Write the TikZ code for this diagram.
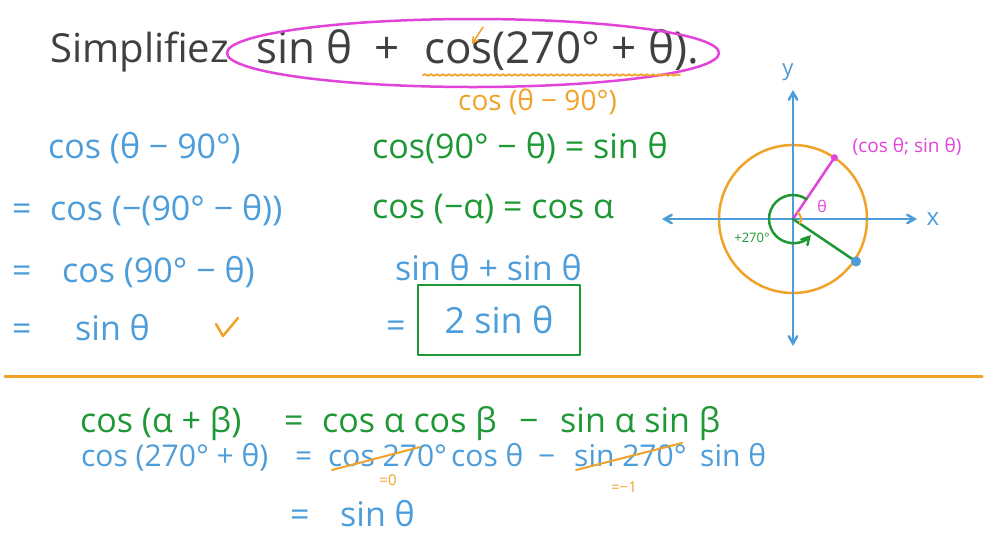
\documentclass[tikz,border=0pt]{standalone}
\usepackage{fontspec}
\setmainfont{Open Sans}
\usepackage{tikz}
\usetikzlibrary{arrows,calc,decorations.pathmorphing}
\definecolor{penblue}{RGB}{77,157,218}
\definecolor{pengreen}{RGB}{30,152,52}
\definecolor{penorange}{RGB}{240,163,40}
\definecolor{penpink}{RGB}{226,68,218}
\definecolor{pengray}{RGB}{64,64,64}
\tikzstyle{eq} = [anchor=base west, inner sep=0pt, font=\fontsize{34}{40}\selectfont]
\tikzstyle{low} = [eq, font=\fontsize{30}{36}\selectfont]
\tikzstyle{note} = [inner sep=0pt, font=\fontsize{16}{19}\selectfont]
\tikzstyle{pen} = [line width=2.5pt, line cap=round, line join=round]
\tikzstyle{ax} = [pen, draw=penblue, angle 60-angle 60]

\begin{document}
\begin{tikzpicture}[yscale=-1,x=1pt,y=1pt]
			\useasboundingbox (0,0) rectangle (992,558);
			\fill[white] (0,0) rectangle (992,558);
			% title
			\node[eq, text=pengray, font=\fontsize{40}{46}\selectfont] (title) at (50,62) {Simplifiez};
			\node[eq, text=pengray, font=\fontsize{44}{50}\selectfont] (t1) at (256,63) {sin θ};
			\node[eq, text=pengray, font=\fontsize{44}{50}\selectfont] (t2) at (374,63) {+};
			\node[eq, text=pengray, font=\fontsize{44}{50}\selectfont] (t3) at (424,63) {cos(270° + θ).};
			\draw[pen, penpink] (473,53) ellipse (246 and 34);
			\draw[pen, penorange, line width=1.5pt, -angle 60] (483,27) -- (472,44);
			\draw[pen, penorange, line width=1.8pt, decorate, decoration={snake, amplitude=0.8pt, segment length=6pt}] (423,75) -- (680,75);
			\node[eq, text=penorange, font=\fontsize{28}{32}\selectfont] (hint) at (458,110) {cos (θ − 90°)};
			% left column
			\node[eq, text=penblue] (l1) at (48,158) {cos (θ − 90°)};
			\node[eq, text=penblue] (e2) at (12,220) {=};
			\node[eq, text=penblue] (l2) at (50,220) {cos (−(90° − θ))};
			\node[eq, text=penblue] (e3) at (12,282) {=};
			\node[eq, text=penblue] (l3) at (62,282) {cos (90° − θ)};
			\node[eq, text=penblue] (e4) at (12,340) {=};
			\node[eq, text=penblue] (l4) at (75,340) {sin θ};
			\draw[pen, penorange] (216,324) -- (223,336) -- (238,318);
			% middle column
			\node[eq, text=pengreen] (m1) at (372,158) {cos(90° − θ) = sin θ};
			\node[eq, text=pengreen] (m2) at (372,218) {cos (−α) = cos α};
			\node[eq, text=penblue] (m3) at (395,280) {sin θ + sin θ};
			\node[eq, text=penblue] (e5) at (386,337) {=};
			\node[pen, draw=pengreen, text=penblue, minimum width=162, minimum height=70, font=\fontsize{36}{42}\selectfont] (ans) at (499,320) {2 sin θ};
			% unit circle
			\coordinate (O) at (793,219);
			\coordinate (xl) at (662,219);
			\coordinate (xr) at (917,219);
			\coordinate (yt) at (793,90);
			\coordinate (yb) at (793,346);
			\path (O) ++(-56:74) coordinate (P);
			\path (O) ++(34:76) coordinate (Q);
			\draw[pen, penorange] (O) circle (74);
			\draw[ax] (xl) -- (xr);
			\draw[ax] (yb) -- (yt);
			\node[note, text=penblue, font=\fontsize{24}{28}\selectfont] (xlab) at (933,219) {x};
			\node[note, text=penblue, font=\fontsize{22}{26}\selectfont] (ylab) at (788,72) {y};
			\draw[pen, penpink] (O) -- (P);
			\fill[penpink] (P) circle (3.5);
			\node[note, text=penpink, font=\fontsize{19}{22}\selectfont] (plab) at (907,147) {(cos θ; sin θ)};
			\draw[pen, pengreen] (O) -- (Q);
			\fill[penblue] (Q) circle (5);
			\draw[pen, penorange, line width=2pt] ([shift={(-56:8)}]O) arc[start angle=-56, end angle=34, radius=8];
			\node[note, text=penpink] (th) at (822,206) {θ};
			\draw[pen, pengreen, -angle 60] ([shift={(-56:24)}]O) arc[start angle=-56, end angle=-318, radius=24];
			\node[note, text=pengreen, font=\fontsize{13}{15}\selectfont] (turn) at (752,238) {+270°};
			% separator
			\draw[pen, penorange, line width=3pt] (5,376) -- (982,376);
			% bottom
			\node[eq, text=pengreen] (b1) at (80,432) {cos (α + β)};
			\node[eq, text=pengreen] (b2) at (284,432) {=};
			\node[eq, text=pengreen] (b3) at (322,432) {cos α cos β};
			\node[eq, text=pengreen] (b4) at (519,432) {−};
			\node[eq, text=pengreen] (b5) at (560,432) {sin α sin β};
			\node[low, text=penblue] (c1) at (81,466) {cos (270° + θ)};
			\node[low, text=penblue] (c2) at (295,466) {=};
			\node[low, text=penblue] (c3) at (328,466) {cos 270°};
			\node[low, text=penblue] (c4) at (451,466) {cos θ};
			\node[low, text=penblue] (c5) at (538,466) {−};
			\node[low, text=penblue] (c6) at (574,466) {sin 270°};
			\node[low, text=penblue] (c7) at (700,466) {sin θ};
			\draw[pen, penorange, line width=2pt] (332,470) -- (420,447);
			\draw[pen, penorange, line width=2pt] (576,470) -- (682,443);
			\node[note, text=penorange, font=\fontsize{15}{17}\selectfont] (z1) at (388,480) {=0};
			\node[note, text=penorange, font=\fontsize{15}{17}\selectfont] (z2) at (624,487) {=−1};
			\node[eq, text=penblue] (e6) at (290,526) {=};
			\node[eq, text=penblue] (c8) at (340,526) {sin θ};
		\end{tikzpicture}
\end{document}
